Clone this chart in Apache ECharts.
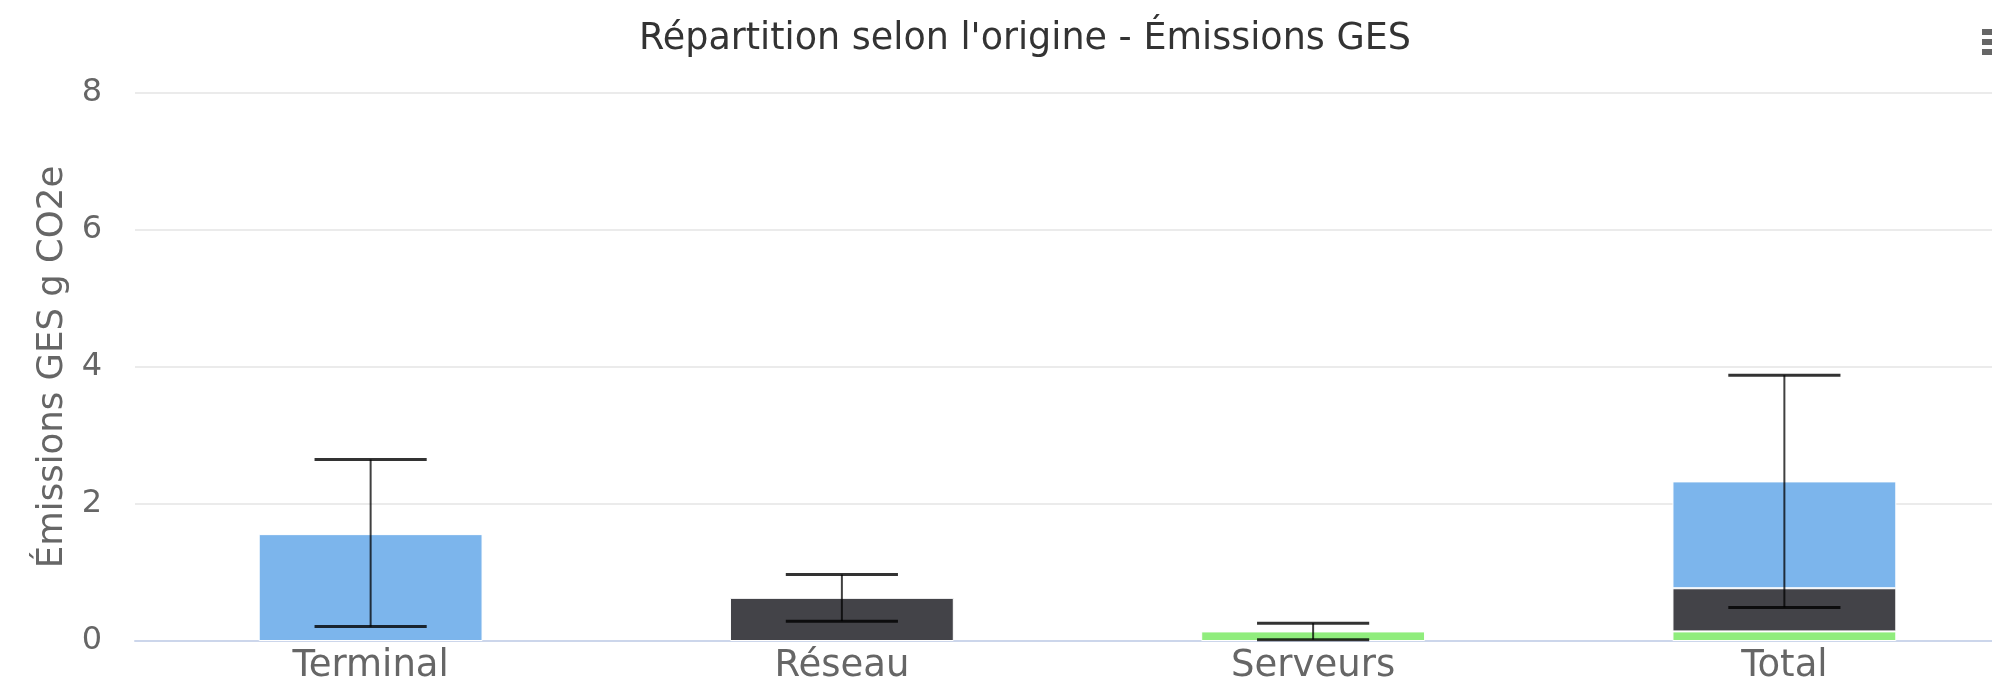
<!DOCTYPE html>
<html>
<head>
<meta charset="utf-8">
<title>Répartition selon l'origine - Émissions GES</title>
<script src="https://cdn.jsdelivr.net/npm/echarts@6/dist/echarts.min.js"></script>
<style>
  html, body { margin: 0; padding: 0; background: #fff; }
  #chart { width: 1992px; height: 687px; }
</style>
</head>
<body>
<div id="chart"></div>
<script>
/* Répartition des émissions GES par origine (barres empilées + barres d'erreur) */
var CATEGORIES = ['Terminal', 'Réseau', 'Serveurs', 'Total'];

// valeurs moyennes par origine (la colonne Total empile les trois)
var TERMINAL = [1.56, null, null, 1.56];
var RESEAU   = [null, 0.63, null, 0.63];
var SERVEURS = [null, null, 0.14, 0.14];

// intervalles d'incertitude (bas / haut)
var ERR_LOW  = [0.21, 0.29, 0.02, 0.49];
var ERR_HIGH = [2.65, 0.97, 0.26, 3.88];

var Y_TICKS = { min: 0, max: 8, interval: 2 };

var COLORS = { terminal: '#7cb5ec', reseau: '#434348', serveurs: '#90ed7d' };
var FONT = 'DejaVu Sans';

var chart = echarts.init(document.getElementById('chart'));

function barSeries(name, data, color) {
  return {
    name: name,
    type: 'bar',
    stack: 'total',
    barWidth: '47.5%',
    data: data,
    itemStyle: { color: color, borderColor: '#ffffff', borderWidth: 1 },
    z: 2
  };
}

var errorData = CATEGORIES.map(function(c, i) { return [i, ERR_LOW[i], ERR_HIGH[i]]; });

function renderError(params, api) {
  var lo = api.coord([api.value(0), api.value(1)]);
  var hi = api.coord([api.value(0), api.value(2)]);
  var half = api.size([1, 0])[0] * 0.119;
  var style = { stroke: 'rgba(0,0,0,0.8)', lineWidth: 3 };
  return {
    type: 'group',
    children: [
      { type: 'line', shape: { x1: lo[0], y1: lo[1], x2: hi[0], y2: hi[1] },
        style: { stroke: 'rgba(0,0,0,0.75)', lineWidth: 2 } },
      { type: 'line', shape: { x1: hi[0] - half, y1: hi[1], x2: hi[0] + half, y2: hi[1] }, style: style },
      { type: 'line', shape: { x1: lo[0] - half, y1: lo[1], x2: lo[0] + half, y2: lo[1] }, style: style }
    ]
  };
}

chart.setOption({
  animation: false,
  backgroundColor: '#ffffff',
  textStyle: { fontFamily: FONT },
  title: {
    text: "Répartition selon l'origine - Émissions GES",
    left: 1020,
    top: 16,
    textAlign: 'center',
    textStyle: { fontFamily: FONT, fontSize: 36.5, fontWeight: 'normal', color: '#333333' }
  },
  // la zone de tracé dépasse du bord droit (capture recadrée)
  grid: { left: 135, width: 1885, top: 93, bottom: 46, containLabel: false, outerBoundsMode: 'none' },
  xAxis: {
    type: 'category',
    data: CATEGORIES,
    axisLine: { lineStyle: { color: '#ccd6eb', width: 2 } },
    axisTick: { show: false },
    axisLabel: { fontFamily: FONT, fontSize: 37, color: '#666666', margin: 7 }
  },
  yAxis: {
    type: 'value',
    min: Y_TICKS.min,
    max: Y_TICKS.max,
    interval: Y_TICKS.interval,
    name: 'Émissions GES g CO2e',
    nameLocation: 'middle',
    nameGap: 64,
    nameTextStyle: { fontFamily: FONT, fontSize: 35.5, color: '#666666' },
    axisLine: { show: false },
    axisTick: { show: false },
    axisLabel: { fontFamily: FONT, fontSize: 32, color: '#666666', margin: 33 },
    splitLine: { lineStyle: { color: '#ebebeb', width: 2 } }
  },
  series: [
    barSeries('Serveurs', SERVEURS, COLORS.serveurs),
    barSeries('Réseau', RESEAU, COLORS.reseau),
    barSeries('Terminal', TERMINAL, COLORS.terminal),
    {
      name: 'Incertitude',
      type: 'custom',
      renderItem: renderError,
      encode: { x: 0, y: [1, 2] },
      data: errorData,
      z: 5
    }
  ],
  graphic: [
    // icône de menu (coupée au bord droit)
    { type: 'rect', left: 1982, top: 29, shape: { width: 14, height: 6 }, style: { fill: '#666666' } },
    { type: 'rect', left: 1982, top: 39, shape: { width: 14, height: 6 }, style: { fill: '#666666' } },
    { type: 'rect', left: 1982, top: 49, shape: { width: 14, height: 6 }, style: { fill: '#666666' } }
  ]
});
</script>
</body>
</html>
